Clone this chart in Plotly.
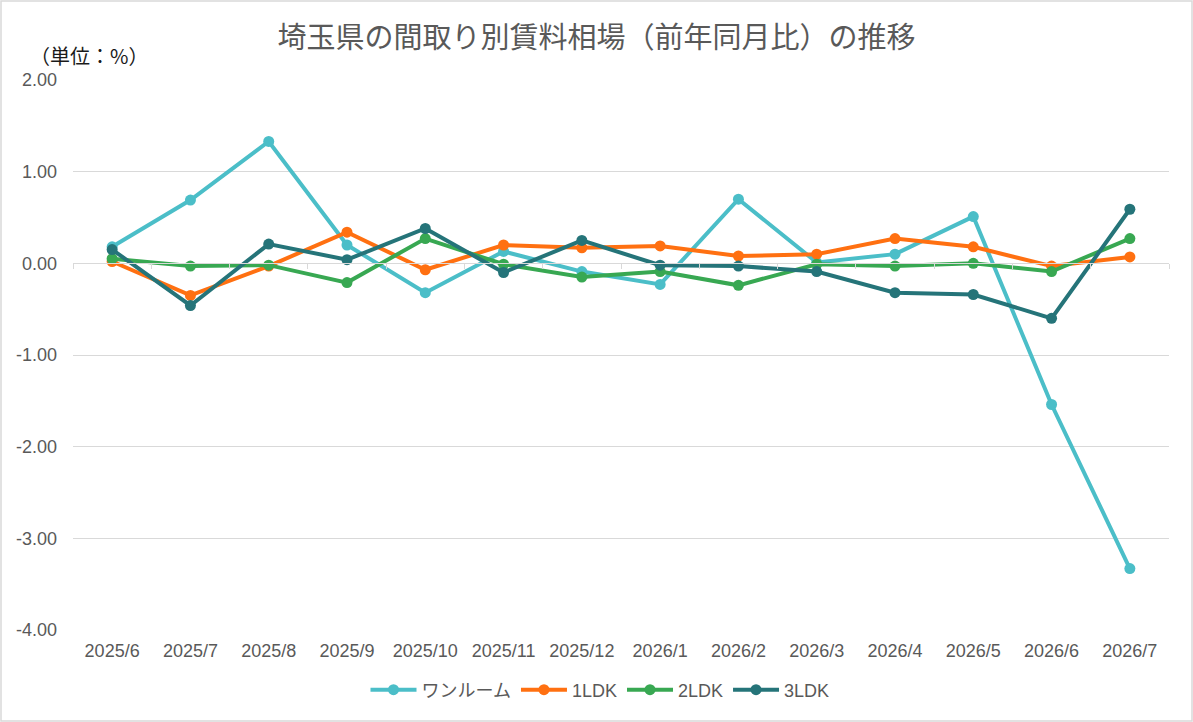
import plotly.graph_objects as go

months = ['2025/6', '2025/7', '2025/8', '2025/9', '2025/10', '2025/11', '2025/12',
          '2026/1', '2026/2', '2026/3', '2026/4', '2026/5', '2026/6', '2026/7']

one_room = [0.18, 0.69, 1.33, 0.20, -0.32, 0.13, -0.09, -0.23, 0.70, 0.01, 0.10, 0.51, -1.54, -3.33]
ldk1 = [0.02, -0.35, -0.03, 0.34, -0.07, 0.20, 0.17, 0.19, 0.08, 0.10, 0.27, 0.18, -0.03, 0.07]
ldk2 = [0.05, -0.03, -0.02, -0.21, 0.27, -0.01, -0.15, -0.09, -0.24, -0.01, -0.03, 0.00, -0.09, 0.27]
ldk3 = [0.15, -0.46, 0.21, 0.04, 0.38, -0.10, 0.25, -0.02, -0.03, -0.09, -0.32, -0.34, -0.60, 0.59]

y_ticks = [2, 1, 0, -1, -2, -3, -4]

series = [
    ('ワンルーム', one_room, '#4bbec8'),
    ('1LDK', ldk1, '#ff7011'),
    ('2LDK', ldk2, '#38a852'),
    ('3LDK', ldk3, '#257479'),
]

W, H = 1193, 722
ml, mr, mt, mb = 73, 24, 80, 92
ymin, ymax = -4, 2
font = 'Liberation Sans, Noto Sans CJK JP, sans-serif'
pw, ph = W - ml - mr, H - mt - mb
xr = [-0.5, len(months) - 0.5]

fig = go.Figure()
for name, vals, color in series:
    fig.add_trace(go.Scatter(
        x=months, y=vals, name=name, mode='lines+markers',
        line=dict(color=color, width=4),
        marker=dict(color=color, size=11),
    ))

# invisible trace so the category tick axis at y=0 renders
fig.add_trace(go.Scatter(x=[0], y=[0], xaxis='x2', mode='markers',
                         marker=dict(opacity=0), showlegend=False, hoverinfo='skip'))

fig.update_layout(
    width=W, height=H,
    margin=dict(l=ml, r=mr, t=mt, b=mb),
    paper_bgcolor='white', plot_bgcolor='white',
    font=dict(family=font, size=18, color='#595959'),
    title=dict(text='埼玉県の間取り別賃料相場（前年同月比）の推移',
               x=0.5, xanchor='center', y=1 - 38 / H, yanchor='middle',
               font=dict(family='Noto Sans CJK JP, sans-serif', size=29, color='#595959')),
    xaxis=dict(type='category', range=xr, showgrid=False, zeroline=False, showline=False,
               ticks='', automargin=False, ticklabelstandoff=8,
               tickfont=dict(size=18, color='#595959')),
    xaxis2=dict(range=xr, overlaying='x', anchor='free',
                position=(0 - ymin) / (ymax - ymin), side='bottom',
                showline=True, linecolor='#d9d9d9', linewidth=1,
                ticks='outside', ticklen=5, tickcolor='#d9d9d9',
                tickvals=[i - 0.5 for i in range(len(months) + 1)],
                showticklabels=False, showgrid=False, zeroline=False, automargin=False),
    yaxis=dict(range=[ymin, ymax], tickvals=y_ticks, ticktext=[f'{v:.2f}' for v in y_ticks],
               showgrid=True, gridcolor='#d9d9d9', gridwidth=1, zeroline=False, ticks='',
               automargin=False, ticklabelstandoff=15,
               tickfont=dict(size=18, color='#595959')),
    legend=dict(orientation='h', x=(600 - ml) / pw, xanchor='center', y=-(690 - (H - mb)) / ph,
                yanchor='middle', itemwidth=46, font=dict(size=18, color='#595959')),
    showlegend=True,
)

fig.add_annotation(text='（単位：%）', xref='paper', yref='paper',
                   x=-(ml - 28) / pw, y=1 + (80 - 56) / ph,
                   xanchor='left', yanchor='middle', showarrow=False,
                   font=dict(family='Noto Sans CJK JP, sans-serif', size=20, color='#1a1a1a'))

fig.add_shape(type='rect', xref='paper', yref='paper',
              x0=-(ml - 1) / pw, x1=1 + (mr - 1) / pw,
              y0=-(mb - 1) / ph, y1=1 + (mt - 1) / ph,
              line=dict(color='#d9d9d9', width=1.5), layer='below')

fig.write_html('out.html', config={'displayModeBar': False},
               post_script=["document.body.style.margin='0';"])
